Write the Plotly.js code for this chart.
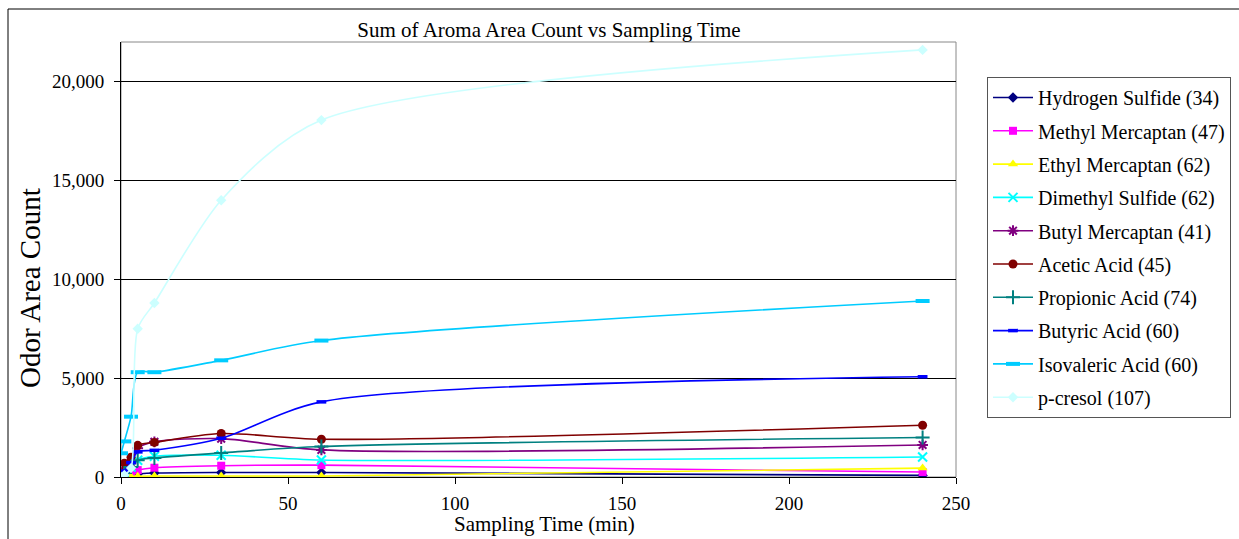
<!DOCTYPE html>
<html>
<head>
<meta charset="utf-8">
<script src="https://cdn.plot.ly/plotly-3.0.1.min.js"></script>
<style>html,body{margin:0;padding:0;background:#fff;}#chart{width:1239px;height:539px;}</style>
</head>
<body>
<div id="chart"></div>
<script>
// Sampling times (min)
const times = [0, 1, 3, 5, 10, 30, 60, 240];

const seriesNames = [
  "Hydrogen Sulfide (34)", "Methyl Mercaptan (47)", "Ethyl Mercaptan (62)",
  "Dimethyl Sulfide (62)", "Butyl Mercaptan (41)", "Acetic Acid (45)",
  "Propionic Acid (74)", "Butyric Acid (60)", "Isovaleric Acid (60)", "p-cresol (107)"
];

const hydrogenSulfide = [0, 50, 120, 150, 200, 230, 230, 80];
const methylMercaptan = [0, 150, 250, 350, 470, 570, 600, 250];
const ethylMercaptan  = [0, 0, 20, 40, 50, 50, 50, 450];
const dimethylSulfide = [0, 250, 500, 850, 1050, 1100, 860, 1010];
const butylMercaptan  = [0, 300, 700, 1450, 1780, 1940, 1370, 1620];
const aceticAcid      = [0, 700, 1000, 1600, 1750, 2200, 1910, 2620];
const propionicAcid   = [0, 200, 500, 850, 960, 1220, 1540, 2000];
const butyricAcid     = [0, 300, 730, 1270, 1350, 1960, 3800, 5070];
const isovalericAcid  = [1200, 1800, 3050, 5300, 5300, 5900, 6900, 8900];
const pCresol         = [0, 100, 450, 7500, 8800, 14000, 18050, 21600];

const values = [hydrogenSulfide, methylMercaptan, ethylMercaptan, dimethylSulfide,
  butylMercaptan, aceticAcid, propionicAcid, butyricAcid, isovalericAcid, pCresol];

const colors = ["#000080", "#FF00FF", "#FFFF00", "#00FFFF", "#800080", "#800000",
  "#008080", "#0000FF", "#00CCFF", "#CCFFFF"];
const symbols = ["diamond", "square", "triangle-up", "x-thin-open", "asterisk-open", "circle",
  "cross-thin-open", "line-ew-open", "line-ew-open", "diamond"];
const sizes = [8, 8, 9, 9, 9, 9, 10, 7, 10, 8];
const mlw = [0, 0, 0, 2, 2, 0, 2, 3.5, 4, 0];

const traces = seriesNames.map((n, i) => ({
  x: times, y: values[i], name: n, type: "scatter", mode: "lines+markers",
  legendgroup: "g" + i,
  line: {color: colors[i], width: 1.6, shape: "spline", smoothing: 0.8},
  marker: {color: colors[i], symbol: symbols[i], size: sizes[i],
           line: {color: colors[i], width: mlw[i]}}
}));

const font = "Liberation Serif, Times New Roman, serif";
const L = 121, R = 956, T = 42, B = 477;
const W = R - L, H = B - T;
const px = v => (v - L) / W;
const py = v => (B - v) / H;

const layout = {
  width: 1239, height: 539,
  margin: {l: L, r: 1239 - R, t: T, b: 539 - B, autoexpand: false},
  paper_bgcolor: "#fff", plot_bgcolor: "#fff",
  font: {family: font, size: 19, color: "#000"},
  showlegend: true,
  title: {text: "Sum of Aroma Area Count vs Sampling Time", font: {family: font, size: 21},
          x: px(549), xref: "paper", xanchor: "center", y: 1 - 30 / 539, yanchor: "middle"},
  xaxis: {range: [0, 250], dtick: 50, tick0: 0, showgrid: false, zeroline: false,
          showline: true, linecolor: "#000", linewidth: 1, mirror: false,
          ticks: "outside", ticklen: 6, tickcolor: "#000", ticklabelstandoff: 3,
          tickfont: {family: font, size: 19}},
  yaxis: {range: [0, 22000], dtick: 5000, tick0: 0, tickformat: ",d",
          showgrid: true, gridcolor: "#000", gridwidth: 1, zeroline: false,
          showline: true, linecolor: "#000", linewidth: 1,
          ticks: "outside", ticklen: 6, tickcolor: "#000", ticklabelstandoff: 6,
          tickfont: {family: font, size: 19}},
  annotations: [
    {text: "Odor Area Count", xref: "paper", yref: "paper", x: px(30), y: py(288),
     xanchor: "center", yanchor: "middle", textangle: -90, showarrow: false,
     font: {family: font, size: 29}},
    {text: "Sampling Time (min)", xref: "paper", yref: "paper", x: px(544), y: py(511),
     xanchor: "center", yanchor: "top", showarrow: false, borderpad: 0,
     font: {family: font, size: 21}}
  ],
  legend: {x: px(987), y: py(77), xanchor: "left", yanchor: "top",
           bordercolor: "#555", borderwidth: 1, bgcolor: "#fff",
           font: {family: font, size: 20}, tracegroupgap: 4.3, itemwidth: 40,
           traceorder: "grouped"},
  shapes: [
    {type: "rect", xref: "paper", yref: "paper", x0: 0, x1: 1, y0: 0, y1: 1,
     line: {color: "#888", width: 1}, layer: "below"},
    {type: "rect", xref: "paper", yref: "paper", x0: px(8), x1: px(1250), y0: py(550), y1: py(9),
     line: {color: "#000", width: 1}, fillcolor: "rgba(0,0,0,0)"}
  ]
};

Plotly.newPlot("chart", traces, layout, {staticPlot: true});
</script>
</body>
</html>
